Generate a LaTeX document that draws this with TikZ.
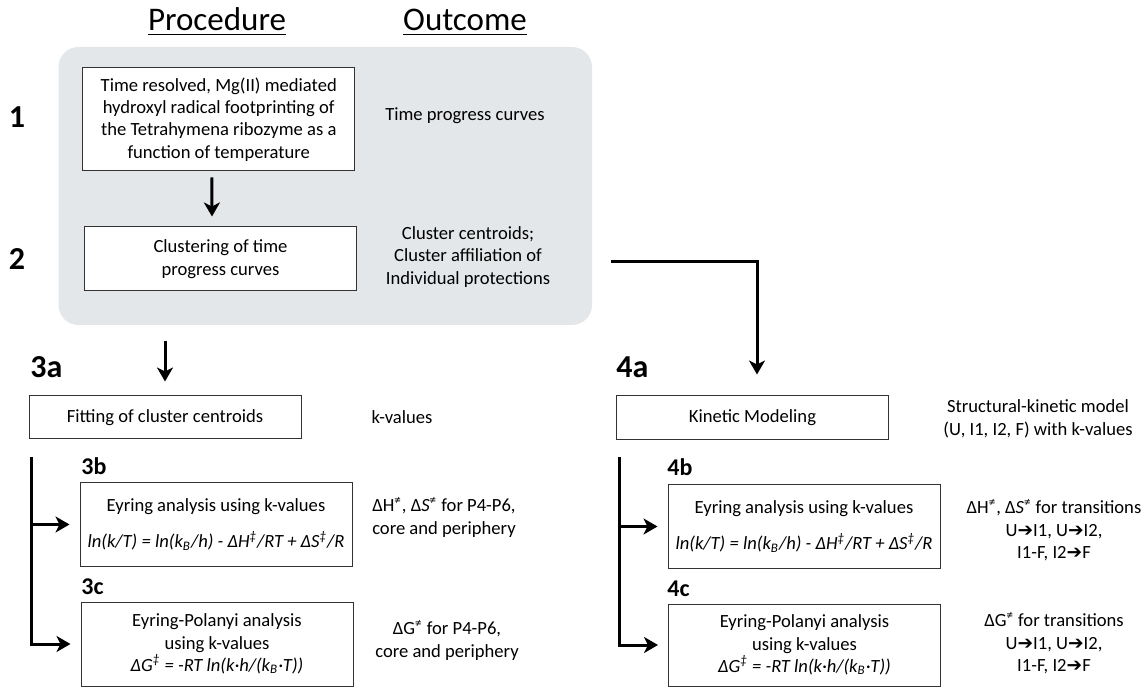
\documentclass[tikz,border=0pt]{standalone}
\usepackage{fontspec}
\setmainfont{Carlito}
\newfontfamily\dejavu{DejaVu Sans}
\usetikzlibrary{arrows.meta,positioning}

\definecolor{panelgray}{RGB}{228,231,233}
\newcommand{\trans}{{\dejavu\char"2794}}
\newcommand{\ddsup}{\textsuperscript{‡}}
\newcommand{\nesup}{\textsuperscript{≠}}

\tikzset{
  every node/.style={font=\fontsize{9.3}{11.2}\selectfont},
  box/.style={draw=black!80, line width=0.5pt, fill=white, minimum width=136pt, align=center, inner sep=2pt},
  outcome/.style={align=center, inner sep=0pt},
  biglabel/.style={font=\fontsize{16}{18}\selectfont\bfseries, inner sep=0pt},
  sublabel/.style={font=\fontsize{12}{14}\selectfont\bfseries, inner sep=0pt, anchor=west},
  heading/.style={font=\fontsize{16.5}{20}\selectfont, anchor=base},
  panel/.style={fill=panelgray, rounded corners=10pt, inner sep=0pt},
  arr/.style={line width=1.5pt, -{Stealth[length=7pt,width=8pt,inset=2pt]}},
}

\begin{document}
\begin{tikzpicture}[x=0.5pt,y=-0.5pt]
    \useasboundingbox (0,0) rectangle (1144,688);

    % Grey panel behind steps 1 and 2
    \node[panel, minimum width=266.75pt, minimum height=139pt] (panel) at (325.25,186) {};

    % Headings
    \node[heading] (proc) at (217,31) {\underline{Procedure}};
    \node[heading] (outc) at (465,31) {\underline{Outcome}};

    % Steps 1 and 2
    \node[biglabel] (lab1) at (17,117) {1};
    \node[box, minimum height=51.5pt] (step1) at (218.75,119.5) {Time resolved, Mg(II) mediated\\hydroxyl radical footprinting of\\the Tetrahymena ribozyme as a\\function of temperature};
    \node[outcome] (out1) at (465,116) {Time progress curves};

    \node[biglabel] (lab2) at (17,259) {2};
    \node[box, minimum height=32pt] (step2) at (220.5,259) {Clustering of time\\progress curves};
    \node[outcome] (out2) at (468,257) {Cluster centroids;\\Cluster affiliation of\\Individual protections};

    % Branch 3
    \node[biglabel, anchor=west] (lab3a) at (30,367) {3a};
    \node[box, minimum height=21.5pt] (fit) at (165,417.5) {Fitting of cluster centroids};
    \node[outcome] (out3a) at (402,417) {k-values};

    \node[sublabel] (lab3b) at (81,466) {3b};
    \node[box, minimum height=41.5pt] (eyr3) at (216,524.5) {Eyring analysis using k-values\\[7pt]\textit{ln(k/T) = ln(k\textsubscript{B}/h) - ΔH\ddsup/RT + ΔS\ddsup/R}};
    \node[outcome] (out3b) at (444,517) {ΔH\nesup, Δ\textit{S}\nesup\ for P4-P6,\\core and periphery};

    \node[sublabel] (lab3c) at (81,587) {3c};
    \node[box, minimum height=42pt] (ep3) at (217,644) {Eyring-Polanyi analysis\\using k-values\\\textit{ΔG\ddsup\ = -RT ln(k·h/(k\textsubscript{B}·T))}};
    \node[outcome] (out3c) at (447,640) {ΔG\nesup\ for P4-P6,\\core and periphery};

    % Branch 4
    \node[biglabel, anchor=west] (lab4a) at (616,367) {4a};
    \node[box, minimum height=22pt] (kin) at (752.5,418) {Kinetic Modeling};
    \node[outcome] (out4a) at (1038,419) {Structural-kinetic model\\(U, I1, I2, F) with k-values};

    \node[sublabel] (lab4b) at (667,467) {4b};
    \node[box, minimum height=41.5pt] (eyr4) at (804,526.5) {Eyring analysis using k-values\\[7pt]\textit{ln(k/T) = ln(k\textsubscript{B}/h) - ΔH\ddsup/RT + ΔS\ddsup/R}};
    \node[outcome] (out4b) at (1054,530) {ΔH\nesup, Δ\textit{S}\nesup\ for transitions\\U\trans I1, U\trans I2,\\I1-F, I2\trans F};

    \node[sublabel] (lab4c) at (667,589) {4c};
    \node[box, minimum height=41pt] (ep4) at (804.5,645) {Eyring-Polanyi analysis\\using k-values\\\textit{ΔG\ddsup\ = -RT ln(k·h/(k\textsubscript{B}·T))}};
    \node[outcome] (out4c) at (1054,643) {ΔG\nesup\ for transitions\\U\trans I1, U\trans I2,\\I1-F, I2\trans F};

    % Arrows
    \draw[arr] ([shift={(-7,6)}]step1.south) -- ([shift={(-8.5,-10)}]step2.north);

    \coordinate (drop3) at (165,341);
    \draw[arr] (drop3) -- ([yshift=7pt]fit.north);

    \coordinate (split) at (611,262);
    \draw[arr] (split) -| ([shift={(4.5,-21)}]kin.north);

    % Brackets to b and c
    \coordinate (trunk3) at (31,457);
    \draw[arr] (trunk3) |- ([xshift=-5pt]ep3.west);
    \draw[arr] (trunk3 |- eyr3.west) -- ([xshift=-5pt]eyr3.west);

    \coordinate (trunk4) at (619,457);
    \draw[arr] (trunk4) |- ([xshift=-5pt]ep4.west);
    \draw[arr] (trunk4 |- eyr4.west) -- ([xshift=-5pt]eyr4.west);
\end{tikzpicture}
\end{document}
